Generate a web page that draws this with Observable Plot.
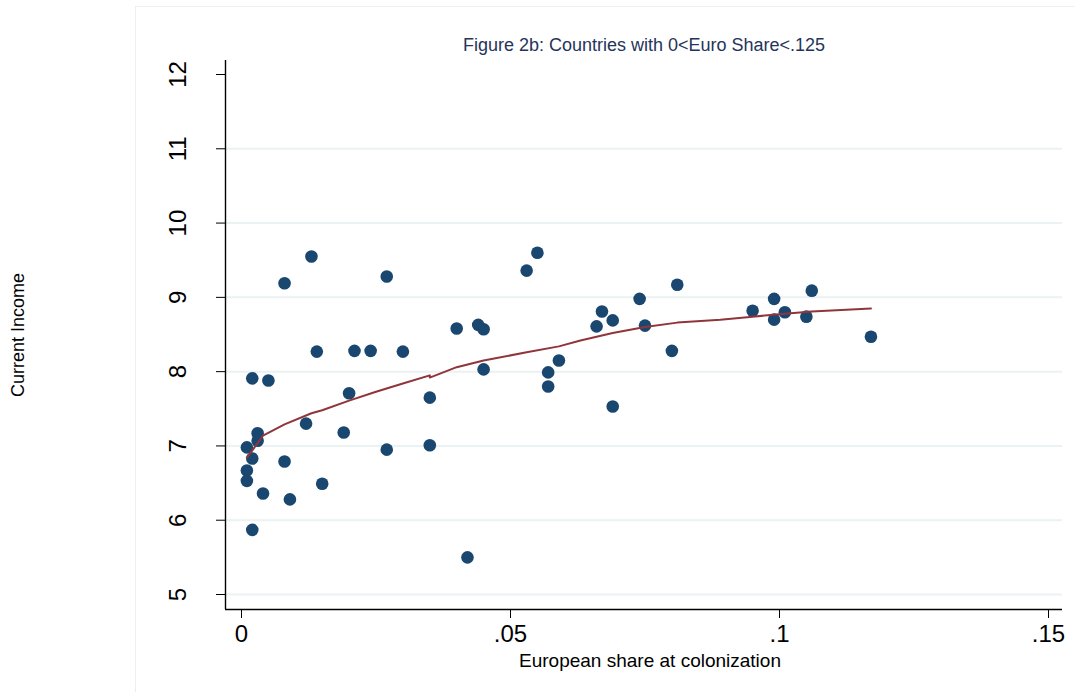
<!DOCTYPE html>
<html>
<head>
<meta charset="utf-8">
<script src="https://cdn.jsdelivr.net/npm/d3@7"></script>
<script src="https://cdn.jsdelivr.net/npm/@observablehq/plot@0.6"></script>
<style>
  html, body { margin: 0; padding: 0; background: #fff; }
  #wrap { position: relative; width: 1074px; height: 692px; overflow: hidden; }
  #border { position: absolute; left: 135px; top: 6px; width: 1000px; height: 700px;
            border-left: 1px solid #e9eff2; border-top: 1px solid #e9eff2; }
  #chart { position: absolute; left: 0; top: 0; }
</style>
</head>
<body>
<div id="wrap"><div id="border"></div><div id="chart"></div></div>
<script>
// Scatter data: European share at colonization vs current income
const euroShare = [0.001, 0.001, 0.001, 0.002, 0.002, 0.002, 0.003, 0.003, 0.004, 0.005,
  0.008, 0.008, 0.009, 0.012, 0.013, 0.014, 0.015, 0.019, 0.020, 0.021,
  0.024, 0.027, 0.027, 0.030, 0.035, 0.035, 0.040, 0.042, 0.044, 0.045,
  0.045, 0.053, 0.055, 0.057, 0.057, 0.059, 0.066, 0.067, 0.069, 0.069,
  0.074, 0.075, 0.080, 0.081, 0.095, 0.099, 0.099, 0.101, 0.105, 0.106, 0.117];
const income = [6.98, 6.67, 6.53, 7.91, 6.83, 5.87, 7.17, 7.07, 6.36, 7.88,
  9.19, 6.79, 6.28, 7.30, 9.55, 8.27, 6.49, 7.18, 7.71, 8.28,
  8.28, 9.28, 6.95, 8.27, 7.65, 7.01, 8.58, 5.50, 8.63, 8.57,
  8.03, 9.36, 9.60, 7.99, 7.80, 8.15, 8.61, 8.81, 8.69, 7.53,
  8.98, 8.62, 8.28, 9.17, 8.82, 8.98, 8.70, 8.80, 8.74, 9.09, 8.47];

// Smoothed (lowess) fit
const fitX = [0.001, 0.004, 0.008, 0.013, 0.015, 0.020, 0.025, 0.030, 0.035, 0.035,
  0.040, 0.045, 0.053, 0.059, 0.063, 0.069, 0.075, 0.081, 0.089, 0.095, 0.101, 0.106, 0.117];
const fitY = [6.84, 7.14, 7.29, 7.44, 7.48, 7.61, 7.73, 7.84, 7.95, 7.92,
  8.06, 8.15, 8.26, 8.34, 8.42, 8.52, 8.60, 8.66, 8.70, 8.74, 8.78, 8.81, 8.85];

const xTicks = [0, 0.05, 0.1, 0.15];
const yTicks = [5, 6, 7, 8, 9, 10, 11, 12];
const gridTicks = [5, 6, 7, 8, 9, 10, 11];

const titleText = "Figure 2b: Countries with 0<Euro Share<.125";
const xLabel = "European share at colonization";
const yLabel = "Current Income";

const points = euroShare.map((x, i) => ({x, y: income[i]}));
const fit = fitX.map((x, i) => ({x, y: fitY[i]}));

const xDomain = [-0.002974, 0.152602];
const yDomain = [4.7981, 12.1885];
const fmt = d => d === 0 ? "0" : String(+d.toFixed(3)).replace(/^0/, "");
const font = "'Liberation Sans', Arial, Helvetica, sans-serif";

const chart = Plot.plot({
  width: 1074,
  height: 692,
  marginLeft: 225,
  marginRight: 12,
  marginTop: 60,
  marginBottom: 83,
  style: {fontFamily: font, color: "#000", background: "transparent", overflow: "visible"},
  x: {domain: xDomain, axis: null},
  y: {domain: yDomain, axis: null},
  marks: [
    Plot.gridY(gridTicks, {stroke: "#eaf2f3", strokeOpacity: 1, strokeWidth: 2}),
    Plot.ruleX([xDomain[0]], {stroke: "#000", strokeWidth: 1.4}),
    Plot.ruleY([yDomain[0]], {stroke: "#000", strokeWidth: 1.4}),
    Plot.axisX({ticks: xTicks, tickSize: 9, tickPadding: 6, fontSize: 24, tickFormat: fmt, label: null, stroke: "#000"}),
    Plot.axisY({ticks: yTicks, tickSize: 9, tickFormat: () => "", label: null, stroke: "#000"}),
    Plot.text(yTicks, {y: d => d, text: d => String(d), frameAnchor: "left", dx: -47,
      rotate: -90, fontSize: 24, textAnchor: "middle", lineAnchor: "middle", fill: "#000"}),
    Plot.dot(points, {x: "x", y: "y", r: 6.3, fill: "#1a476f", stroke: "none"}),
    Plot.line(fit, {x: "x", y: "y", stroke: "#90353b", strokeWidth: 2}),
    Plot.text([titleText], {frameAnchor: "top", dy: -15, fontSize: 18, fill: "#25345a",
      lineAnchor: "middle", textAnchor: "middle"}),
    Plot.text([xLabel], {frameAnchor: "bottom", dx: 6, dy: 51, fontSize: 19, fill: "#000",
      lineAnchor: "middle", textAnchor: "middle"}),
    Plot.text([yLabel], {frameAnchor: "left", dx: -207, rotate: -90, fontSize: 18, fill: "#000",
      lineAnchor: "middle", textAnchor: "middle"})
  ]
});
document.getElementById("chart").appendChild(chart);
</script>
</body>
</html>
